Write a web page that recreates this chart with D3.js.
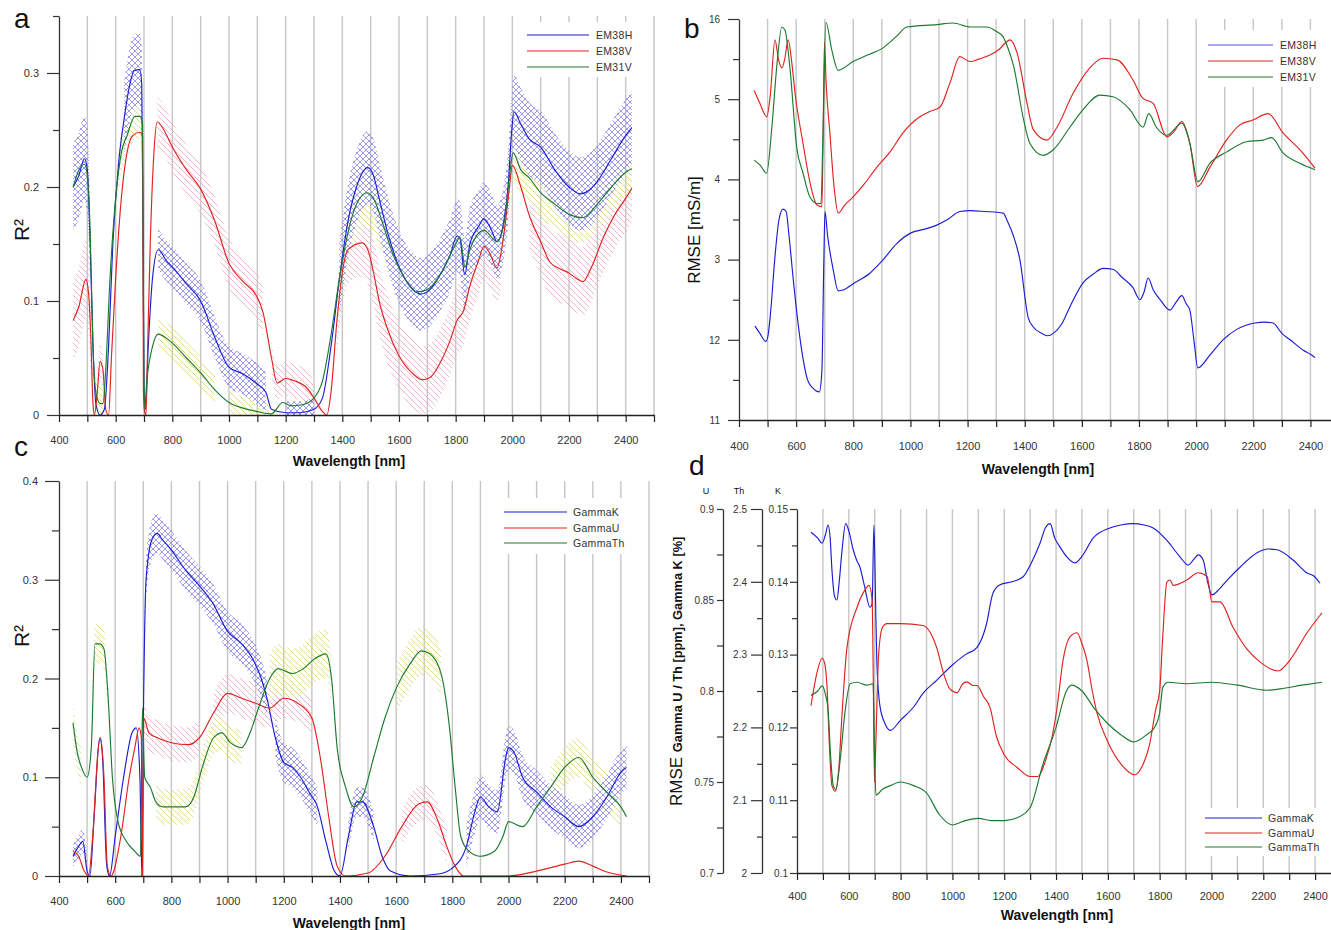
<!DOCTYPE html>
<html>
<head>
<meta charset="utf-8">
<script src="https://cdn.jsdelivr.net/npm/d3@7"></script>
<style>
  body { margin: 0; background: #fff; }
  svg { font-family: "Liberation Sans", Arial, sans-serif; }
</style>
</head>
<body>
<svg id="chart" width="1331" height="930"></svg>
<script>
// ---- data ----
const wlTicks = d3.range(400, 2501, 100);
const gridWl = d3.range(500, 2501, 100);

// panel a : R2 EM
const aEm38h = [[450,.2],[470,.21],[490,.225],[500,.215],[510,.15],[520,.06],[530,.01],[545,0],[560,.005],[575,.06],[590,.15],[610,.22],[630,.26],[650,.29],[665,.302],[685,.303],[692,.29],[697,.15],[700,.02],[705,.005],[715,.06],[730,.12],[750,.145],[780,.135],[800,.13],[850,.115],[900,.1],[950,.068],[1000,.042],[1050,.036],[1100,.027],[1130,.02],[1150,.005],[1200,.002],[1250,.002],[1300,.005],[1330,.015],[1360,.06],[1390,.12],[1420,.17],[1450,.2],[1490,.217],[1510,.21],[1530,.19],[1560,.16],[1600,.13],[1650,.11],[1675,.106],[1700,.108],[1750,.125],[1780,.14],[1805,.157],[1815,.155],[1832,.123],[1850,.15],[1880,.165],[1900,.172],[1925,.163],[1946,.152],[1970,.17],[1985,.2],[1998,.25],[2006,.266],[2030,.255],[2060,.242],[2100,.235],[2150,.215],[2200,.2],[2240,.194],[2270,.197],[2300,.205],[2350,.225],[2400,.245],[2422,.252]];
const aEm38v = [[450,.083],[470,.095],[495,.119],[505,.105],[512,.07],[520,.01],[525,0],[535,.02],[545,.047],[555,.04],[565,.005],[575,0],[585,.05],[600,.12],[620,.19],[640,.23],[660,.245],[685,.248],[695,.245],[698,.02],[702,.003],[707,0],[712,.05],[722,.15],[735,.23],[747,.257],[770,.25],[800,.235],[850,.215],[898,.199],[950,.17],[1000,.133],[1050,.117],[1100,.103],[1120,.09],[1150,.05],[1170,.028],[1200,.032],[1230,.03],[1270,.025],[1300,.015],[1330,.003],[1345,0],[1360,.02],[1380,.08],[1400,.125],[1420,.145],[1470,.151],[1490,.145],[1510,.125],[1530,.1],[1560,.075],[1600,.052],[1650,.036],[1681,.031],[1710,.033],[1750,.048],[1780,.065],[1805,.083],[1827,.091],[1850,.113],[1880,.135],[1900,.148],[1920,.142],[1946,.129],[1960,.142],[1975,.168],[1990,.2],[2000,.219],[2030,.2],[2060,.175],[2100,.152],[2133,.134],[2170,.128],[2197,.125],[2225,.12],[2249,.117],[2280,.13],[2320,.155],[2360,.175],[2400,.19],[2422,.199]];
const aEm31v = [[450,.2],[470,.215],[490,.22],[500,.21],[510,.16],[520,.06],[530,.02],[545,.01],[555,.01],[565,.04],[580,.12],[600,.19],[620,.23],[640,.245],[668,.262],[685,.262],[695,.255],[698,.1],[702,.005],[710,.03],[730,.06],[750,.071],[800,.063],[850,.05],[900,.037],[950,.022],[1000,.011],[1050,.006],[1100,.003],[1150,.001],[1190,.011],[1220,.008],[1260,.009],[1300,.015],[1330,.03],[1360,.07],[1390,.12],[1420,.16],[1450,.185],[1487,.195],[1510,.19],[1540,.17],[1580,.14],[1620,.12],[1660,.108],[1700,.11],[1750,.125],[1800,.15],[1815,.156],[1833,.13],[1850,.145],[1900,.162],[1946,.152],[1975,.175],[1990,.21],[2003,.23],[2030,.215],[2060,.208],[2100,.195],[2150,.185],[2200,.176],[2249,.173],[2300,.185],[2350,.2],[2400,.213],[2422,.216]];
// hatched bands: [from, to, half width]
const aEm38hBand = [[440,510,.038],[625,700,.032],[740,1140,.018],[1160,1310,.01],[1380,2425,.032]];
const aEm38vBand = [[445,520,.035],[530,560,.015],[740,1145,.022],[1150,1300,.015],[1380,1960,.03],[2040,2425,.03]];
const aEm31vBand = [[520,560,.015],[600,700,.02],[740,960,.014],[990,1150,.01],[1390,1560,.03],[2000,2425,.022]];

// panel b : RMSE EM (axis units)
const bTickLabels = ["11", "12", "3", "4", "5", "16"];
const bEm38h = [[456,2.17],[473,2.08],[494,1.98],[502,2.06],[512,2.4],[525,3.0],[540,3.5],[554,3.63],[565,3.6],[575,3.3],[590,2.75],[600,2.41],[623,1.79],[640,1.5],[658,1.4],[681,1.35],[690,1.6],[697,3.0],[701,3.6],[710,3.3],[730,2.87],[747,2.61],[764,2.62],[800,2.7],[858,2.83],[900,2.98],[952,3.2],[1000,3.33],[1050,3.38],[1092,3.43],[1130,3.5],[1173,3.6],[1209,3.61],[1260,3.6],[1325,3.58],[1338,3.49],[1360,3.3],[1383,3.0],[1412,2.28],[1430,2.16],[1460,2.08],[1481,2.05],[1500,2.08],[1530,2.2],[1558,2.41],[1604,2.71],[1640,2.82],[1674,2.89],[1709,2.88],[1740,2.78],[1779,2.65],[1803,2.5],[1818,2.6],[1832,2.77],[1850,2.62],[1874,2.5],[1908,2.37],[1930,2.47],[1950,2.55],[1965,2.45],[1978,2.37],[1992,2.0],[2006,1.65],[2048,1.81],[2094,2.0],[2142,2.13],[2206,2.21],[2240,2.22],[2269,2.21],[2300,2.08],[2329,2.0],[2375,1.87],[2400,1.82],[2416,1.78]];
const bEm38v = [[453,5.11],[473,4.95],[497,4.78],[509,5.03],[526,5.74],[538,5.5],[550,5.39],[560,5.5],[572,5.74],[585,5.45],[596,5.08],[624,4.45],[648,3.97],[673,3.68],[690,3.66],[694,4.4],[699,5.71],[705,5.2],[718,4.58],[733,3.9],[747,3.58],[770,3.68],[799,3.78],[840,3.95],[882,4.15],[930,4.35],[974,4.58],[1033,4.78],[1070,4.85],[1103,4.9],[1138,5.2],[1173,5.53],[1209,5.47],[1240,5.5],[1278,5.55],[1310,5.62],[1338,5.72],[1348,5.74],[1373,5.58],[1408,4.95],[1430,4.62],[1478,4.49],[1513,4.65],[1569,5.07],[1628,5.39],[1674,5.51],[1723,5.49],[1779,5.24],[1814,5.01],[1849,4.95],[1898,4.53],[1919,4.58],[1950,4.72],[1978,4.45],[2005,3.91],[2048,4.15],[2106,4.49],[2153,4.68],[2199,4.74],[2252,4.82],[2304,4.58],[2363,4.37],[2416,4.14]];
const bEm31v = [[453,4.24],[473,4.18],[497,4.08],[515,4.65],[532,5.4],[550,5.9],[561,5.86],[578,5.4],[602,4.4],[624,4.08],[648,3.78],[673,3.7],[687,3.7],[694,4.58],[704,5.96],[725,5.61],[747,5.36],[799,5.47],[850,5.55],[904,5.64],[950,5.78],[988,5.9],[1093,5.93],[1149,5.95],[1210,5.9],[1267,5.9],[1303,5.84],[1324,5.78],[1340,5.65],[1362,5.4],[1394,4.78],[1418,4.45],[1464,4.3],[1500,4.37],[1558,4.65],[1604,4.87],[1663,5.05],[1709,5.03],[1768,4.87],[1814,4.65],[1834,4.82],[1861,4.65],[1897,4.55],[1950,4.7],[1978,4.45],[2006,3.97],[2048,4.2],[2106,4.34],[2176,4.47],[2234,4.49],[2264,4.52],[2304,4.33],[2363,4.2],[2416,4.12]];

// panel c : R2 gamma
const cGammaK = [[450,.02],[470,.03],[485,.035],[500,.005],[510,0],[525,.06],[545,.14],[555,.12],[570,.01],[580,0],[600,.04],[630,.1],[660,.145],[675,.15],[688,.1],[695,0],[700,.15],[710,.3],[730,.34],[749,.347],[770,.34],[800,.33],[850,.31],[902,.293],[950,.275],[997,.249],[1050,.235],[1091,.219],[1120,.2],[1140,.18],[1170,.14],[1200,.115],[1230,.11],[1260,.1],[1290,.085],[1320,.07],[1350,.035],[1380,.005],[1400,0],[1430,.04],[1460,.075],[1480,.075],[1520,.05],[1550,.02],[1580,.005],[1650,0],[1750,.002],[1800,.008],[1850,.03],[1880,.065],[1900,.08],[1930,.07],[1960,.065],[1990,.12],[2000,.13],[2020,.125],[2050,.1],[2100,.085],[2150,.07],[2200,.06],[2250,.05],[2300,.06],[2350,.08],[2400,.105],[2420,.11]];
const cGammaU = [[450,.025],[470,.02],[490,.005],[505,0],[520,.04],[540,.13],[548,.14],[560,.1],[572,.01],[585,0],[620,.04],[650,.1],[670,.13],[685,.15],[693,.14],[697,0],[702,.16],[720,.145],[750,.14],[800,.135],[860,.133],[900,.14],[950,.165],[1000,.185],[1050,.18],[1100,.175],[1150,.17],[1200,.18],[1250,.175],[1300,.16],[1330,.12],[1360,.06],[1390,.01],[1420,0],[1500,.003],[1560,.02],[1620,.05],[1680,.073],[1710,.075],[1750,.055],[1780,.03],[1810,.01],[1840,0],[2000,0],[2100,.005],[2200,.012],[2250,.015],[2300,.01],[2350,.004],[2420,0]];
const cGammaTh = [[450,.155],[465,.125],[480,.11],[500,.1],[515,.13],[528,.235],[545,.235],[560,.23],[575,.18],[590,.1],[610,.055],[640,.035],[670,.025],[690,.02],[697,.17],[705,.1],[725,.09],[745,.075],[770,.07],[850,.07],[880,.08],[910,.11],[950,.14],[980,.145],[1010,.135],[1050,.13],[1080,.145],[1110,.17],[1150,.2],[1180,.21],[1230,.205],[1270,.21],[1310,.22],[1350,.225],[1370,.2],[1390,.13],[1420,.09],[1450,.07],[1480,.08],[1520,.12],[1560,.16],[1600,.19],[1650,.215],[1690,.228],[1720,.225],[1760,.205],[1790,.15],[1810,.09],[1830,.04],[1860,.025],[1900,.02],[1950,.025],[1980,.04],[2000,.055],[2050,.05],[2100,.07],[2150,.09],[2200,.11],[2250,.12],[2300,.1],[2350,.085],[2400,.07],[2420,.06]];
const cGammaKBand = [[440,500,.012],[700,1140,.02],[1160,1340,.02],[1420,1530,.015],[1850,2425,.022]];
const cGammaUBand = [[700,900,.018],[940,1310,.02],[1600,1780,.018]];
const cGammaThBand = [[450,480,.02],[515,575,.02],[740,1060,.018],[1150,1370,.025],[1600,1770,.025],[2150,2410,.02]];

// panel d : RMSE gamma (U ppm, Th ppm, K %)
const dGammaK = [[454,.1468],[480,.146],[497,.1453],[510,.1465],[520,.1478],[528,.146],[535,.1416],[545,.138],[554,.1375],[563,.14],[573,.144],[588,.148],[600,.147],[617,.1444],[630,.143],[643,.142],[660,.1395],[682,.1365],[690,.137],[697,.1478],[703,.138],[708,.1293],[720,.123],[740,.1205],[760,.1196],[800,.121],[850,.1228],[887,.1247],[940,.1265],[991,.1283],[1050,.13],[1095,.131],[1130,.134],[1157,.1385],[1184,.1396],[1230,.14],[1273,.1407],[1310,.143],[1338,.1453],[1360,.1475],[1377,.148],[1395,.146],[1415,.1448],[1440,.1435],[1473,.1426],[1500,.1435],[1543,.146],[1608,.1474],[1650,.1478],[1697,.148],[1740,.1478],[1775,.1474],[1828,.1457],[1879,.1434],[1910,.1423],[1930,.143],[1949,.1437],[1968,.143],[1985,.14],[2002,.1382],[2030,.139],[2060,.1402],[2110,.142],[2176,.144],[2220,.1445],[2253,.1444],[2315,.143],[2369,.1412],[2395,.1408],[2419,.1398]];
const dGammaU = [[454,.792],[477,.81],[497,.818],[507,.815],[516,.802],[525,.77],[535,.748],[548,.745],[560,.755],[575,.79],[593,.824],[632,.846],[660,.855],[678,.858],[690,.85],[694,.813],[699,.75],[704,.77],[715,.82],[730,.835],[747,.837],[800,.837],[887,.836],[915,.832],[941,.823],[965,.81],[991,.801],[1018,.799],[1040,.804],[1056,.805],[1080,.803],[1095,.803],[1120,.797],[1145,.791],[1170,.775],[1200,.765],[1250,.758],[1300,.753],[1330,.753],[1360,.762],[1385,.775],[1404,.791],[1427,.817],[1455,.83],[1481,.832],[1500,.826],[1519,.817],[1540,.8],[1558,.788],[1600,.772],[1650,.76],[1705,.754],[1730,.758],[1760,.77],[1785,.79],[1800,.8],[1812,.83],[1828,.86],[1840,.861],[1852,.858],[1905,.861],[1949,.865],[1983,.863],[2002,.849],[2033,.849],[2083,.835],[2137,.823],[2187,.816],[2257,.811],[2303,.817],[2369,.832],[2427,.843]];
const dGammaTh = [[454,2.244],[480,2.25],[497,2.257],[510,2.245],[520,2.224],[530,2.16],[540,2.12],[550,2.115],[565,2.15],[585,2.22],[605,2.26],[632,2.262],[670,2.258],[694,2.26],[700,2.15],[705,2.107],[730,2.115],[760,2.12],[800,2.125],[850,2.12],[900,2.11],[950,2.08],[1000,2.066],[1050,2.072],[1100,2.075],[1150,2.072],[1200,2.072],[1250,2.076],[1300,2.09],[1350,2.15],[1400,2.2],[1440,2.25],[1460,2.258],[1500,2.25],[1550,2.225],[1600,2.205],[1650,2.19],[1700,2.18],[1750,2.19],[1780,2.2],[1800,2.22],[1812,2.255],[1833,2.262],[1900,2.26],[2000,2.262],[2100,2.258],[2215,2.251],[2265,2.253],[2350,2.258],[2427,2.262]];

const BLUE = "#1c1cd2", RED = "#e0221e", GREEN = "#1c7a30";

// ---- setup ----
const svg = d3.select("#chart");
const defs = svg.append("defs");

function hatch(id, color, cross) {
  const p = defs.append("pattern").attr("id", id)
    .attr("patternUnits", "userSpaceOnUse").attr("width", 6).attr("height", 6);
  p.append("path").attr("d", "M0,0L6,6M-1,5L1,7M5,-1L7,1")
    .attr("stroke", color).attr("stroke-width", 1);
  if (cross) {
    p.append("path").attr("d", "M0,6L6,0M-1,1L1,-1M5,7L7,5")
      .attr("stroke", color).attr("stroke-width", 1);
  }
}
hatch("hBlue", "#8c8ce6", true);
hatch("hPink", "#eaa6c6", false);
hatch("hYellow", "#dcd57a", false);

function grid(x, y0, y1, vals) {
  svg.append("g").selectAll("line").data(vals).enter().append("line")
    .attr("x1", d => x(d)).attr("x2", d => x(d))
    .attr("y1", y0).attr("y2", y1)
    .attr("stroke", "#c6c6c6").attr("stroke-width", 1.4);
}

function xAxis(x, yPos, dy) {
  const g = svg.append("g").attr("transform", `translate(0,${yPos})`)
    .call(d3.axisBottom(x).tickValues(wlTicks).tickSize(7).tickSizeOuter(0)
      .tickFormat(d => d % 200 === 0 ? d : ""));
  g.select(".domain").attr("stroke", "#222").attr("stroke-width", 1.3);
  g.selectAll(".tick line").attr("stroke", "#222").attr("stroke-width", 1.2);
  g.selectAll("text").attr("font-size", 11).attr("fill", "#333").attr("dy", dy)
    .attr("font-family", "Liberation Sans, Arial, sans-serif");
  return g;
}

function yAxis(y, xPos, major, minor, majorLen, minorLen, fmt, fontSize, pad) {
  const gMin = svg.append("g").attr("transform", `translate(${xPos},0)`)
    .call(d3.axisLeft(y).tickValues(minor).tickSize(minorLen).tickSizeOuter(0).tickFormat(""));
  gMin.select(".domain").attr("stroke", "#333").attr("stroke-width", 1.3);
  gMin.selectAll(".tick line").attr("stroke", "#333").attr("stroke-width", 1.2);
  const gMaj = svg.append("g").attr("transform", `translate(${xPos},0)`)
    .call(d3.axisLeft(y).tickValues(major).tickSize(majorLen).tickSizeOuter(0)
      .tickPadding(pad).tickFormat(fmt));
  gMaj.select(".domain").remove();
  gMaj.selectAll(".tick line").attr("stroke", "#333").attr("stroke-width", 1.2);
  gMaj.selectAll("text").attr("font-size", fontSize).attr("fill", "#333")
    .attr("font-family", "Liberation Sans, Arial, sans-serif");
  return gMaj;
}

function bands(x, y, data, segs, fill) {
  const area = d3.area().x(d => x(d[0]))
    .y0(d => y(Math.max(0, d[1] - d.w))).y1(d => y(d[1] + d.w))
    .curve(d3.curveMonotoneX);
  segs.forEach(([a, b, w]) => {
    const pts = data.filter(d => d[0] >= a && d[0] <= b).map(d => Object.assign([d[0], d[1]], { w }));
    if (pts.length < 2) return;
    svg.append("path").attr("d", area(pts)).attr("fill", `url(#${fill})`).attr("opacity", 0.85);
  });
}

function line(x, y, data, color) {
  const l = d3.line().x(d => x(d[0])).y(d => y(d[1])).curve(d3.curveMonotoneX);
  svg.append("path").datum(data).attr("d", l)
    .attr("fill", "none").attr("stroke", color).attr("stroke-width", 1.15);
}

function legend(bx, by, bw, bh, x0, x1, tx, ys, names, colors) {
  svg.append("rect").attr("x", bx).attr("y", by).attr("width", bw).attr("height", bh).attr("fill", "#fff");
  names.forEach((n, i) => {
    svg.append("line").attr("x1", x0).attr("x2", x1).attr("y1", ys[i]).attr("y2", ys[i])
      .attr("stroke", colors[i]).attr("stroke-width", 1.2);
    svg.append("text").attr("x", tx).attr("y", ys[i] + 4).attr("font-size", 10.5)
      .attr("fill", "#333").attr("letter-spacing", 0.3).text(n);
  });
}

function label(x, y, t, size, opts = {}) {
  const el = svg.append("text").attr("x", x).attr("y", y).attr("font-size", size).attr("fill", "#111").text(t);
  if (opts.bold) el.attr("font-weight", "bold");
  if (opts.anchor) el.attr("text-anchor", opts.anchor);
  if (opts.rotate) el.attr("transform", `rotate(-90,${x},${y})`);
  return el;
}

// ---- panel a ----
const xA = d3.scaleLinear().domain([400, 2500]).range([59, 654]);
const yA = d3.scaleLinear().domain([0, 0.35]).range([415, 16]);
grid(xA, 16, 415, gridWl);
legend(516, 22, 126, 55, 527, 589, 596, [35, 51, 67], ["EM38H", "EM38V", "EM31V"], [BLUE, RED, GREEN]);
bands(xA, yA, aEm38v, aEm38vBand, "hPink");
bands(xA, yA, aEm31v, aEm31vBand, "hYellow");
bands(xA, yA, aEm38h, aEm38hBand, "hBlue");
line(xA, yA, aEm38h, BLUE);
line(xA, yA, aEm38v, RED);
line(xA, yA, aEm31v, GREEN);
xAxis(xA, 415, "1.75em");
yAxis(yA, 59, [0, 0.1, 0.2, 0.3], [0.05, 0.15, 0.25, 0.35], 12, 6, d => d === 0 ? "0" : d3.format(".1f")(d), 11, 8);
label(14, 28, "a", 28);
label(29, 230, "R²", 21, { anchor: "middle", rotate: true });
label(349, 466, "Wavelength [nm]", 14, { bold: true, anchor: "middle" });

// ---- panel b ----
const xB = d3.scaleLinear().domain([400, 2500]).range([739, 1339]);
const yB = d3.scaleLinear().domain([1, 6]).range([420, 19]);
grid(xB, 19, 420, gridWl);
legend(1200, 30, 126, 57, 1208, 1273, 1280, [45, 61, 77], ["EM38H", "EM38V", "EM31V"], ["#5050e0", RED, GREEN]);
line(xB, yB, bEm38h, BLUE);
line(xB, yB, bEm38v, RED);
line(xB, yB, bEm31v, GREEN);
xAxis(xB, 420, "1.8em");
yAxis(yB, 739, [1, 2, 3, 4, 5, 6], [1.5, 2.5, 3.5, 4.5, 5.5], 11, 6, d => bTickLabels[d - 1], 10, 8);
label(684, 38, "b", 28);
label(700, 230, "RMSE [mS/m]", 17, { anchor: "middle", rotate: true });
label(1038, 474, "Wavelength [nm]", 14, { bold: true, anchor: "middle" });

// ---- panel c ----
const xC = d3.scaleLinear().domain([400, 2500]).range([59, 649]);
const yC = d3.scaleLinear().domain([0, 0.4]).range([876, 481]);
grid(xC, 481, 876, gridWl);
legend(495, 498, 136, 56, 504, 567, 573, [512, 528, 543], ["GammaK", "GammaU", "GammaTh"], [BLUE, RED, GREEN]);
bands(xC, yC, cGammaU, cGammaUBand, "hPink");
bands(xC, yC, cGammaTh, cGammaThBand, "hYellow");
bands(xC, yC, cGammaK, cGammaKBand, "hBlue");
line(xC, yC, cGammaK, BLUE);
line(xC, yC, cGammaU, RED);
line(xC, yC, cGammaTh, GREEN);
xAxis(xC, 876, "1.7em");
yAxis(yC, 59, [0, 0.1, 0.2, 0.3, 0.4], [0.05, 0.15, 0.25, 0.35], 14, 7, d => d === 0 ? "0" : d3.format(".1f")(d), 11, 7);
label(14, 456, "c", 28);
label(29, 636, "R²", 21, { anchor: "middle", rotate: true });
label(349, 928, "Wavelength [nm]", 14, { bold: true, anchor: "middle" });

// ---- panel d ----
const xD = d3.scaleLinear().domain([400, 2500]).range([797, 1341]);
const yU = d3.scaleLinear().domain([0.7, 0.9]).range([873, 509]);
const yTh = d3.scaleLinear().domain([2, 2.5]).range([873, 509]);
const yK = d3.scaleLinear().domain([0.1, 0.15]).range([873, 509]);
grid(xD, 509, 873, d3.range(500, 2401, 100));
legend(1198, 808, 128, 48, 1205, 1262, 1268, [818, 833, 847], ["GammaK", "GammaU", "GammaTh"], [BLUE, RED, GREEN]);
line(xD, yK, dGammaK, BLUE);
line(xD, yU, dGammaU, RED);
line(xD, yTh, dGammaTh, GREEN);
xAxis(xD, 873, "1.55em");
yAxis(yU, 723, [0.7, 0.75, 0.8, 0.85, 0.9], [0.725, 0.775, 0.825, 0.875], 6, 6, d => d3.format("")(+d.toFixed(2)), 10, 3);
yAxis(yTh, 762, [2, 2.1, 2.2, 2.3, 2.4, 2.5], [2.05, 2.15, 2.25, 2.35, 2.45], 11, 5, d => d === 2 ? "2" : d3.format(".1f")(d), 10, 4);
yAxis(yK, 797, [0.1, 0.11, 0.12, 0.13, 0.14, 0.15], [0.105, 0.115, 0.125, 0.135, 0.145], 7, 5, d => d3.format("")(+d.toFixed(2)), 10, 2);
label(706, 494, "U", 9, { anchor: "middle" });
label(739, 494, "Th", 9, { anchor: "middle" });
label(778, 494, "K", 9, { anchor: "middle" });
label(689, 475, "d", 28);
const dTitle = svg.append("text").attr("transform", "translate(682,806) rotate(-90)").attr("fill", "#111");
dTitle.append("tspan").attr("font-size", 17).text("RMSE ");
dTitle.append("tspan").attr("font-size", 12.8).attr("font-weight", "bold").text("Gamma U / Th [ppm], Gamma K [%]");
label(1057, 920, "Wavelength [nm]", 14, { bold: true, anchor: "middle" });
</script>
</body>
</html>
